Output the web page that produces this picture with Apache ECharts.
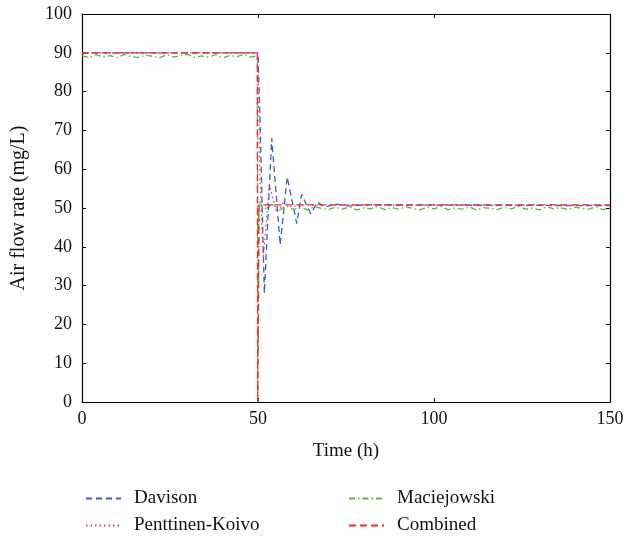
<!DOCTYPE html>
<html>
<head>
<meta charset="utf-8">
<script src="https://cdn.jsdelivr.net/npm/echarts@6/dist/echarts.min.js"></script>
<style>html,body{margin:0;padding:0;background:#fff}#c{width:625px;height:544px}</style>
</head>
<body>
<div id="c"></div>
<script>
// ---- data ----
var seriesNames = ['Davison', 'Penttinen-Koivo', 'Maciejowski', 'Combined'];
var xTicks = [0, 50, 100, 150];
var yTicks = [0, 10, 20, 30, 40, 50, 60, 70, 80, 90, 100];

var davisonT = [0, 50, 50.6, 51.8, 53.9, 56.3, 58.3, 61.0, 62.4, 65.0, 66.9, 69, 72, 76, 80, 150];
var davisonV = [90, 90, 72, 28, 68, 40.5, 58, 46, 53.5, 48.5, 51.5, 50.2, 51, 50.5, 50.8, 50.6];

var pkT = [0, 50, 50.5, 51.5, 53.2, 55.3, 57.2, 59.5, 62, 150];
var pkV = [90, 90, 58, 37, 56, 48.8, 51.4, 50.3, 50.8, 50.7];

var macT = [0, 2, 4, 6, 8, 10, 12, 14, 16, 18, 20, 22, 24, 26, 28, 30, 32, 34, 36, 38, 40, 42, 44, 46, 48, 49.8, 50.0, 50.3,
  52, 54, 56, 58, 60, 62, 64, 66, 68, 70, 72, 74, 76, 78, 80, 82, 84, 86, 88, 90, 92, 94, 96, 98, 100,
  102, 104, 106, 108, 110, 112, 114, 116, 118, 120, 122, 124, 126, 128, 130, 132, 134, 136, 138, 140, 142, 144, 146, 148, 150];
var macV = [89.2, 88.8, 89.5, 88.9, 89.3, 88.7, 89.6, 89.0, 88.8, 89.4, 89.1, 88.7, 89.5, 88.9, 89.3, 89.6, 88.8, 89.2, 88.9, 89.5, 88.7, 89.3, 89.0, 89.6, 88.9, 89.2, 0, 51.5,
  49.8, 50.9, 49.4, 50.6, 49.6, 50.3, 49.5, 50.4, 49.9, 49.6, 50.2, 49.7, 50.3, 49.5, 50.0, 49.8, 50.4, 49.6, 50.1, 49.7, 50.3, 49.9, 49.5, 50.2, 49.8, 50.4, 49.6,
  50.0, 49.7, 50.3, 49.5, 50.1, 49.9, 49.6, 50.2, 49.8, 50.4, 49.7, 50.0, 49.5, 50.3, 49.8, 50.1, 49.6, 50.2, 49.9, 49.7, 50.3, 49.6, 50.0];

var combT = [0, 49.8, 49.9, 50.1, 50.3, 150];
var combV = [90, 90, 0, 0, 50.8, 50.8];

function pairs(t, v) { return t.map(function (x, i) { return [x, v[i]]; }); }

var font = 'Liberation Serif';
var chart = echarts.init(document.getElementById('c'), null, { renderer: 'canvas' });

var lineW = 1.3;
var legendBase = {
  orient: 'vertical', top: 484,
  itemWidth: 35, itemHeight: 12, itemGap: 8,
  itemStyle: { opacity: 0 },
  textStyle: { fontFamily: font, fontSize: 19, color: '#111', padding: [0, 0, 0, 8], lineHeight: 19 }
};
chart.setOption({
  animation: false,
  backgroundColor: '#fff',
  grid: { left: 82, right: 15, top: 14, bottom: 142, containLabel: false, outerBoundsMode: 'none' },
  legend: [
    Object.assign({}, legendBase, { data: ['Davison', 'Penttinen-Koivo'], left: 80 }),
    Object.assign({}, legendBase, { data: ['Maciejowski', 'Combined'], left: 343 })
  ],
  xAxis: [
    {
      type: 'value', min: 0, max: 150, interval: 50, position: 'bottom',
      name: 'Time (h)', nameLocation: 'middle', nameGap: 40,
      nameTextStyle: { fontFamily: font, fontSize: 19, color: '#111' },
      axisLine: { lineStyle: { color: '#000', width: 1.2 } },
      axisTick: { inside: true, length: 4, lineStyle: { color: '#000' } },
      axisLabel: { fontFamily: font, fontSize: 18, color: '#111', margin: 8 },
      splitLine: { show: false }
    },
    {
      type: 'value', min: 0, max: 150, interval: 50, position: 'top',
      axisLine: { show: true, onZero: false, lineStyle: { color: '#000', width: 1.2 } },
      axisTick: { inside: true, length: 4, lineStyle: { color: '#000' } },
      axisLabel: { show: false }, splitLine: { show: false }
    }
  ],
  yAxis: [
    {
      type: 'value', min: 0, max: 100, interval: 10, position: 'left',
      name: 'Air flow rate (mg/L)', nameLocation: 'middle', nameGap: 53,
      nameTextStyle: { fontFamily: font, fontSize: 20, color: '#111' },
      axisLine: { show: true, lineStyle: { color: '#000', width: 1.2 } },
      axisTick: { show: true, inside: true, length: 4, lineStyle: { color: '#000' } },
      axisLabel: { fontFamily: font, fontSize: 18, color: '#111', margin: 10 },
      splitLine: { show: false }
    },
    {
      type: 'value', min: 0, max: 100, interval: 10, position: 'right',
      axisLine: { show: true, onZero: false, lineStyle: { color: '#000', width: 1.2 } },
      axisTick: { show: true, inside: true, length: 4, lineStyle: { color: '#000' } },
      axisLabel: { show: false }, splitLine: { show: false }
    }
  ],
  series: [
    {
      name: 'Davison', type: 'line', symbol: 'none', data: pairs(davisonT, davisonV),
      color: '#3a5fc4', lineStyle: { color: '#3a5fc4', width: lineW, type: [6, 4] }
    },
    {
      name: 'Penttinen-Koivo', type: 'line', symbol: 'none', data: pairs(pkT, pkV),
      color: '#d23ca8', lineStyle: { color: '#d23ca8', width: lineW, type: [1.5, 3] }
    },
    {
      name: 'Maciejowski', type: 'line', symbol: 'none', data: pairs(macT, macV),
      color: '#5cb83c', lineStyle: { color: '#5cb83c', width: lineW, type: [6, 3, 1.5, 3] }
    },
    {
      name: 'Combined', type: 'line', symbol: 'none', data: pairs(combT, combV),
      color: '#ff2a2a', lineStyle: { color: '#ff2a2a', width: lineW, type: [7, 4] }
    }
  ]
});
</script>
</body>
</html>
